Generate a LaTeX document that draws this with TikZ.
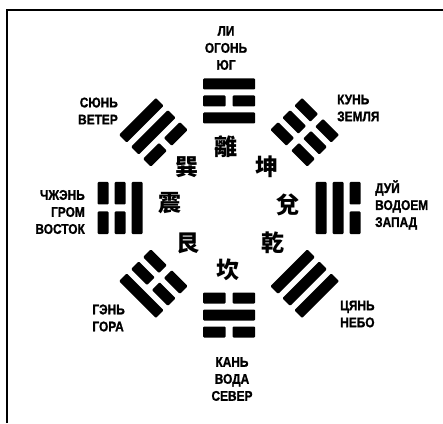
\documentclass[tikz,border=0pt]{standalone}
\usepackage{fontspec}
\usepackage{tikz}
\newfontfamily\rufont{Liberation Sans}[FakeStretch=0.85,FakeBold=1.2]
\newfontfamily\cjk{Noto Sans CJK TC}

\tikzset{
    yao/.style={fill=black, rounded corners=1pt},
    gualabel/.style={inner sep=0pt, font=\rufont\bfseries\fontsize{14}{17}\selectfont},
    hanzi/.style={inner sep=0pt, font=\cjk\bfseries\fontsize{23}{23}\selectfont}
}

\begin{document}
\begin{tikzpicture}[x=1pt,y=1pt]
    \useasboundingbox (0,0) rectangle (443,423);
    % frame
    \draw[line width=2.5pt] (7,0)--(7,413)--(443,413);

    % Li (south, top)
    \begin{scope}[shift={(229,215)},rotate=0,shift={(0,107)}]
        \fill[yao] (-26,11.5)--(26,11.5)--(26,22.5)--(-26,22.5)--cycle;
        \fill[yao] (-26,-5.5)--(-3.5,-5.5)--(-3.5,5.5)--(-26,5.5)--cycle;
        \fill[yao] (3.5,-5.5)--(26,-5.5)--(26,5.5)--(3.5,5.5)--cycle;
        \fill[yao] (-26,-22.5)--(26,-22.5)--(26,-11.5)--(-26,-11.5)--cycle;
    \end{scope}
    % Kun (south-west)
    \begin{scope}[shift={(229,215)},rotate=-45,shift={(0,107)}]
        \fill[yao] (-26,11.5)--(-3.5,11.5)--(-3.5,22.5)--(-26,22.5)--cycle;
        \fill[yao] (3.5,11.5)--(26,11.5)--(26,22.5)--(3.5,22.5)--cycle;
        \fill[yao] (-26,-5.5)--(-3.5,-5.5)--(-3.5,5.5)--(-26,5.5)--cycle;
        \fill[yao] (3.5,-5.5)--(26,-5.5)--(26,5.5)--(3.5,5.5)--cycle;
        \fill[yao] (-26,-22.5)--(-3.5,-22.5)--(-3.5,-11.5)--(-26,-11.5)--cycle;
        \fill[yao] (3.5,-22.5)--(26,-22.5)--(26,-11.5)--(3.5,-11.5)--cycle;
    \end{scope}
    % Dui (west)
    \begin{scope}[shift={(229,215)},rotate=-90,shift={(0,109)}]
        \fill[yao] (-26,11.5)--(-3.5,11.5)--(-3.5,22.5)--(-26,22.5)--cycle;
        \fill[yao] (3.5,11.5)--(26,11.5)--(26,22.5)--(3.5,22.5)--cycle;
        \fill[yao] (-26,-5.5)--(26,-5.5)--(26,5.5)--(-26,5.5)--cycle;
        \fill[yao] (-26,-22.5)--(26,-22.5)--(26,-11.5)--(-26,-11.5)--cycle;
    \end{scope}
    % Qian (north-west)
    \begin{scope}[shift={(229,215)},rotate=-135,shift={(0,107)}]
        \fill[yao] (-26,11.5)--(26,11.5)--(26,22.5)--(-26,22.5)--cycle;
        \fill[yao] (-26,-5.5)--(26,-5.5)--(26,5.5)--(-26,5.5)--cycle;
        \fill[yao] (-26,-22.5)--(26,-22.5)--(26,-11.5)--(-26,-11.5)--cycle;
    \end{scope}
    % Kan (north, bottom)
    \begin{scope}[shift={(229,215)},rotate=180,shift={(0,107)}]
        \fill[yao] (-26,11.5)--(-3.5,11.5)--(-3.5,22.5)--(-26,22.5)--cycle;
        \fill[yao] (3.5,11.5)--(26,11.5)--(26,22.5)--(3.5,22.5)--cycle;
        \fill[yao] (-26,-5.5)--(26,-5.5)--(26,5.5)--(-26,5.5)--cycle;
        \fill[yao] (-26,-22.5)--(-3.5,-22.5)--(-3.5,-11.5)--(-26,-11.5)--cycle;
        \fill[yao] (3.5,-22.5)--(26,-22.5)--(26,-11.5)--(3.5,-11.5)--cycle;
    \end{scope}
    % Gen (north-east)
    \begin{scope}[shift={(229,215)},rotate=135,shift={(0,107)}]
        \fill[yao] (-26,11.5)--(26,11.5)--(26,22.5)--(-26,22.5)--cycle;
        \fill[yao] (-26,-5.5)--(-3.5,-5.5)--(-3.5,5.5)--(-26,5.5)--cycle;
        \fill[yao] (3.5,-5.5)--(26,-5.5)--(26,5.5)--(3.5,5.5)--cycle;
        \fill[yao] (-26,-22.5)--(-3.5,-22.5)--(-3.5,-11.5)--(-26,-11.5)--cycle;
        \fill[yao] (3.5,-22.5)--(26,-22.5)--(26,-11.5)--(3.5,-11.5)--cycle;
    \end{scope}
    % Zhen (east)
    \begin{scope}[shift={(229,215)},rotate=90,shift={(0,109)}]
        \fill[yao] (-26,11.5)--(-3.5,11.5)--(-3.5,22.5)--(-26,22.5)--cycle;
        \fill[yao] (3.5,11.5)--(26,11.5)--(26,22.5)--(3.5,22.5)--cycle;
        \fill[yao] (-26,-5.5)--(-3.5,-5.5)--(-3.5,5.5)--(-26,5.5)--cycle;
        \fill[yao] (3.5,-5.5)--(26,-5.5)--(26,5.5)--(3.5,5.5)--cycle;
        \fill[yao] (-26,-22.5)--(26,-22.5)--(26,-11.5)--(-26,-11.5)--cycle;
    \end{scope}
    % Xun (south-east)
    \begin{scope}[shift={(229,215)},rotate=45,shift={(0,107)}]
        \fill[yao] (-26,11.5)--(26,11.5)--(26,22.5)--(-26,22.5)--cycle;
        \fill[yao] (-26,-5.5)--(26,-5.5)--(26,5.5)--(-26,5.5)--cycle;
        \fill[yao] (-26,-22.5)--(-3.5,-22.5)--(-3.5,-11.5)--(-26,-11.5)--cycle;
        \fill[yao] (3.5,-22.5)--(26,-22.5)--(26,-11.5)--(3.5,-11.5)--cycle;
    \end{scope}

    % names
    \node[gualabel,align=center] (li) at (226,375) {ЛИ\\ОГОНЬ\\ЮГ};
    \node[gualabel,align=right,anchor=east] (sun) at (118,312) {СЮНЬ\\ВЕТЕР};
    \node[gualabel,align=left,anchor=west] (kun) at (337,315) {КУНЬ\\ЗЕМЛЯ};
    \node[gualabel,align=right,anchor=east] (zhen) at (85,211) {ЧЖЭНЬ\\ГРОМ\\ВОСТОК};
    \node[gualabel,align=left,anchor=west] (dui) at (375,218) {ДУЙ\\ВОДОЕМ\\ЗАПАД};
    \node[gualabel,align=left,anchor=east] (gen) at (125,105) {ГЭНЬ\\ГОРА};
    \node[gualabel,align=left,anchor=west] (qian) at (340,109) {ЦЯНЬ\\НЕБО};
    \node[gualabel,align=center] (kan) at (232,44) {КАНЬ\\ВОДА\\СЕВЕР};

    % characters
    \node[hanzi] (hli) at (226,276) {離};
    \node[hanzi] (hkun) at (267,256) {坤};
    \node[hanzi] (hdui) at (288,218) {兌};
    \node[hanzi] (hqian) at (273,180) {乾};
    \node[hanzi] (hkan) at (228,153) {坎};
    \node[hanzi] (hgen) at (188,180) {艮};
    \node[hanzi] (hzhen) at (170,220) {震};
    \node[hanzi] (hsun) at (187,256) {巽};
\end{tikzpicture}
\end{document}
